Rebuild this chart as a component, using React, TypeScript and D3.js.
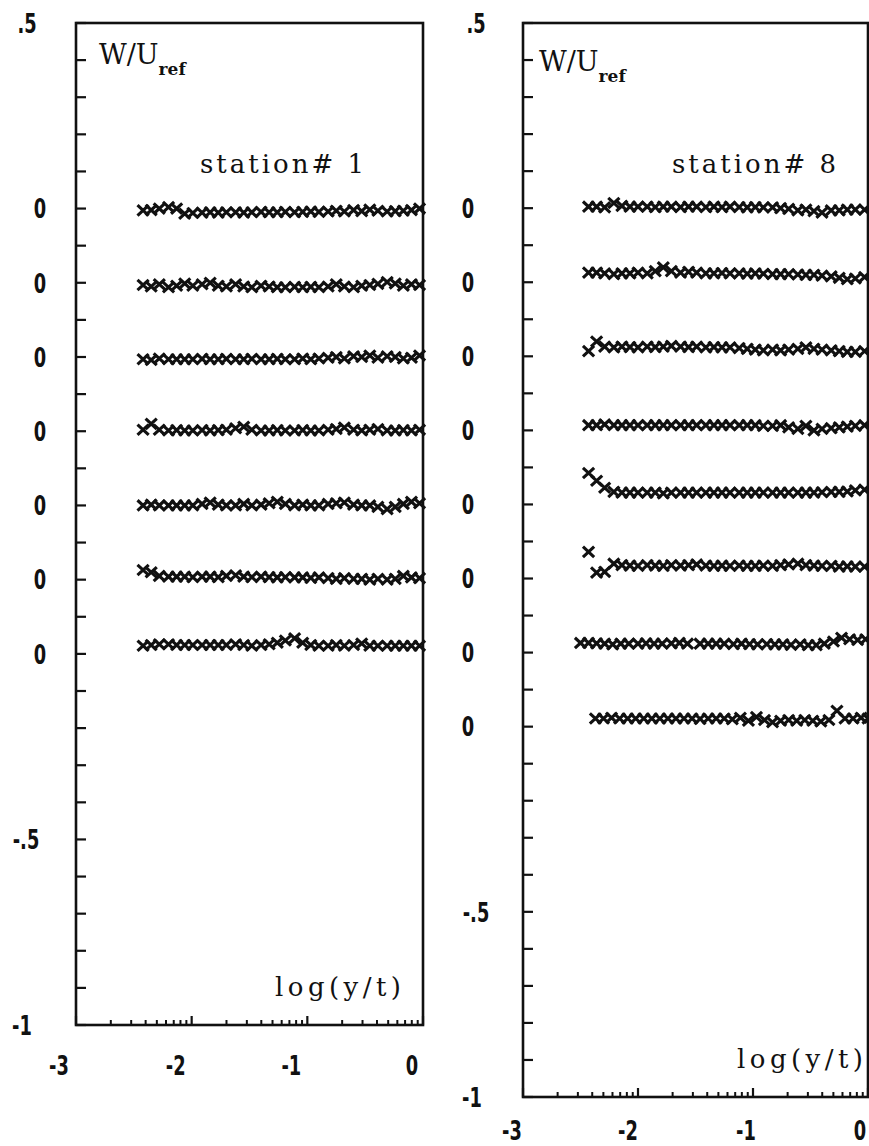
import React from "react";
import * as d3 from "d3";

// ---------- data ----------
// log(y/t) positions of the measurement points
const LEFT_X = [-2.42, -2.35, -2.28, -2.20, -2.13, -2.06, -1.99, -1.91, -1.84, -1.77, -1.70, -1.62, -1.55, -1.48, -1.40, -1.33, -1.26, -1.19, -1.11, -1.04, -0.97, -0.90, -0.82, -0.75, -0.68, -0.60, -0.53, -0.46, -0.39, -0.31, -0.24, -0.17, -0.10, -0.03];
const RIGHT_X = [-2.43, -2.36, -2.29, -2.21, -2.14, -2.07, -2.00, -1.92, -1.85, -1.78, -1.71, -1.63, -1.56, -1.49, -1.41, -1.34, -1.27, -1.20, -1.12, -1.05, -0.98, -0.91, -0.83, -0.76, -0.69, -0.61, -0.54, -0.47, -0.40, -0.32, -0.25, -0.18, -0.11, -0.03];
const RIGHT_X7 = [-2.50, -2.43, -2.36, -2.29, -2.22, -2.15, -2.08, -2.00, -1.93, -1.86, -1.79, -1.71, -1.64, -1.57, -1.46, -1.39, -1.32, -1.25, -1.17, -1.10, -1.03, -0.96, -0.88, -0.81, -0.74, -0.67, -0.59, -0.52, -0.45, -0.38, -0.30, -0.23, -0.16, -0.09, -0.02];
const RIGHT_X8 = [-2.37, -2.30, -2.23, -2.16, -2.09, -2.02, -1.95, -1.88, -1.81, -1.74, -1.67, -1.60, -1.53, -1.46, -1.39, -1.32, -1.25, -1.18, -1.11, -1.04, -0.97, -0.90, -0.83, -0.76, -0.69, -0.62, -0.55, -0.48, -0.41, -0.34, -0.27, -0.20, -0.13, -0.06, 0.0];

// W/U_ref values, station 1 (each profile is drawn about its own zero)
const S1_P1 = [-0.005, -0.004, 0.000, 0.004, 0.000, -0.014, -0.012, -0.011, -0.010, -0.011, -0.010, -0.010, -0.011, -0.010, -0.009, -0.010, -0.010, -0.009, -0.010, -0.009, -0.008, -0.009, -0.008, -0.006, -0.008, -0.004, -0.007, -0.003, -0.006, -0.008, -0.007, -0.006, -0.004, 0.000];
const S1_P2 = [-0.006, -0.010, -0.004, -0.012, -0.008, -0.002, -0.008, -0.004, 0.000, -0.008, -0.010, -0.004, -0.010, -0.012, -0.008, -0.010, -0.012, -0.012, -0.011, -0.012, -0.011, -0.012, -0.010, -0.004, -0.010, -0.012, -0.008, -0.006, -0.003, 0.002, -0.002, -0.008, -0.004, -0.006];
const S1_P3 = [-0.006, -0.008, -0.004, -0.006, -0.006, -0.006, -0.006, -0.005, -0.006, -0.006, -0.005, -0.006, -0.006, -0.005, -0.006, -0.006, -0.005, -0.006, -0.006, -0.004, -0.006, -0.004, -0.002, 0.000, -0.004, 0.002, 0.000, 0.004, -0.002, 0.002, 0.000, -0.004, -0.002, 0.004];
const S1_P4 = [0.004, 0.020, 0.004, 0.002, 0.003, 0.002, 0.002, 0.003, 0.002, 0.003, 0.004, 0.008, 0.012, 0.004, 0.002, 0.002, 0.003, 0.002, 0.002, 0.003, 0.002, 0.002, 0.004, 0.006, 0.010, 0.004, 0.002, 0.004, 0.006, 0.002, 0.002, 0.003, 0.002, 0.004];
const S1_P5 = [0.000, 0.002, 0.000, 0.000, 0.000, 0.000, 0.000, 0.004, 0.008, 0.002, 0.000, 0.000, 0.004, 0.000, 0.002, 0.006, 0.010, 0.004, 0.000, 0.002, 0.000, 0.000, 0.004, 0.006, 0.008, 0.002, 0.000, 0.000, -0.004, -0.010, -0.004, 0.004, 0.010, 0.006];
const S1_P6 = [0.026, 0.020, 0.010, 0.008, 0.008, 0.008, 0.007, 0.008, 0.008, 0.007, 0.010, 0.012, 0.008, 0.007, 0.008, 0.007, 0.006, 0.007, 0.006, 0.006, 0.005, 0.006, 0.004, 0.002, 0.004, 0.002, 0.002, 0.000, 0.002, 0.000, 0.002, 0.010, 0.006, 0.004];
const S1_P7 = [0.022, 0.024, 0.026, 0.026, 0.024, 0.024, 0.024, 0.024, 0.024, 0.024, 0.024, 0.026, 0.024, 0.022, 0.024, 0.026, 0.030, 0.036, 0.042, 0.030, 0.024, 0.022, 0.022, 0.024, 0.022, 0.024, 0.028, 0.022, 0.022, 0.022, 0.022, 0.022, 0.022, 0.022];

// station 8
const S8_P1 = [0.004, 0.004, 0.002, 0.014, 0.006, 0.004, 0.004, 0.004, 0.003, 0.004, 0.004, 0.003, 0.004, 0.004, 0.003, 0.004, 0.003, 0.004, 0.003, 0.002, 0.003, 0.002, 0.002, 0.000, -0.002, -0.006, -0.004, -0.008, -0.012, -0.006, -0.006, -0.004, -0.004, -0.004];
const S8_P2 = [0.026, 0.026, 0.024, 0.022, 0.024, 0.024, 0.026, 0.024, 0.030, 0.040, 0.030, 0.026, 0.028, 0.026, 0.024, 0.024, 0.025, 0.024, 0.024, 0.023, 0.024, 0.023, 0.022, 0.022, 0.022, 0.021, 0.020, 0.020, 0.018, 0.016, 0.012, 0.008, 0.010, 0.014];
const S8_P3 = [0.014, 0.040, 0.026, 0.024, 0.026, 0.025, 0.024, 0.026, 0.025, 0.026, 0.028, 0.026, 0.025, 0.026, 0.024, 0.025, 0.024, 0.024, 0.022, 0.020, 0.018, 0.016, 0.018, 0.016, 0.018, 0.020, 0.024, 0.020, 0.018, 0.016, 0.014, 0.012, 0.012, 0.014];
const S8_P4 = [0.014, 0.014, 0.016, 0.014, 0.014, 0.014, 0.014, 0.014, 0.014, 0.014, 0.014, 0.014, 0.014, 0.014, 0.014, 0.014, 0.014, 0.014, 0.014, 0.014, 0.014, 0.012, 0.012, 0.014, 0.008, 0.004, 0.012, 0.000, 0.004, 0.006, 0.008, 0.010, 0.012, 0.014];
const S8_P5 = [0.085, 0.064, 0.045, 0.034, 0.032, 0.032, 0.032, 0.032, 0.032, 0.030, 0.032, 0.032, 0.032, 0.032, 0.032, 0.032, 0.032, 0.032, 0.032, 0.032, 0.032, 0.032, 0.032, 0.032, 0.032, 0.032, 0.032, 0.032, 0.033, 0.034, 0.034, 0.035, 0.038, 0.040];
const S8_P6 = [0.072, 0.016, 0.018, 0.040, 0.036, 0.035, 0.034, 0.036, 0.035, 0.034, 0.036, 0.035, 0.036, 0.038, 0.035, 0.034, 0.035, 0.034, 0.035, 0.034, 0.034, 0.035, 0.034, 0.036, 0.038, 0.040, 0.036, 0.035, 0.034, 0.034, 0.032, 0.033, 0.032, 0.032];
const S8_P7 = [0.026, 0.026, 0.025, 0.024, 0.022, 0.024, 0.024, 0.024, 0.025, 0.024, 0.024, 0.025, 0.026, 0.024, 0.024, 0.024, 0.024, 0.024, 0.023, 0.024, 0.023, 0.022, 0.023, 0.022, 0.022, 0.021, 0.022, 0.020, 0.020, 0.024, 0.030, 0.040, 0.036, 0.034, 0.036];
const S8_P8 = [0.022, 0.022, 0.024, 0.022, 0.022, 0.022, 0.022, 0.022, 0.022, 0.022, 0.022, 0.022, 0.022, 0.021, 0.022, 0.022, 0.022, 0.020, 0.024, 0.016, 0.026, 0.018, 0.012, 0.016, 0.018, 0.016, 0.018, 0.016, 0.014, 0.018, 0.043, 0.022, 0.022, 0.024, 0.022];

// offsets of the stacked profiles
const S1_OFFSETS = [0, -0.2, -0.4, -0.6, -0.8, -1.0, -1.2];
const S8_OFFSETS = [0, -0.2, -0.4, -0.6, -0.8, -1.0, -1.2, -1.4];

// y tick labels (position on the stacked axis, text)
const S1_YLABEL_POS = [0.5, 0, -0.2, -0.4, -0.6, -0.8, -1.0, -1.2, -1.7, -2.2];
const S1_YLABEL_TXT = [".5", "0", "0", "0", "0", "0", "0", "0", "-.5", "-1"];
const S8_YLABEL_POS = [0.5, 0, -0.2, -0.4, -0.6, -0.8, -1.0, -1.2, -1.4, -1.9, -2.4];
const S8_YLABEL_TXT = [".5", "0", "0", "0", "0", "0", "0", "0", "0", "-.5", "-1"];

const X_TICKS = [-3, -2, -1, 0];
const X_TICK_TXT = ["-3", "-2", "-1", "0"];

const S1_SERIES = [S1_P1, S1_P2, S1_P3, S1_P4, S1_P5, S1_P6, S1_P7];
const S1_XS = [LEFT_X, LEFT_X, LEFT_X, LEFT_X, LEFT_X, LEFT_X, LEFT_X];
const S8_SERIES = [S8_P1, S8_P2, S8_P3, S8_P4, S8_P5, S8_P6, S8_P7, S8_P8];
const S8_XS = [RIGHT_X, RIGHT_X, RIGHT_X, RIGHT_X, RIGHT_X, RIGHT_X, RIGHT_X7, RIGHT_X8];

// ---------- drawing ----------
const NUM_FONT = "'DejaVu Sans', 'Liberation Sans', sans-serif";
const SERIF = "'DejaVu Serif', 'Liberation Serif', serif";

type PanelProps = {
  x0: number; x1: number; yTop: number; yBot: number; yMin: number;
  xs: number[][]; series: number[][]; offsets: number[];
  labelPos: number[]; labelTxt: string[];
  labelCx: Record<string, number>;
  xLabelDx: number[]; xLabelDy: number;
  title: string; titleX: number;
  wuX: number; wuY: number;
  logX: number; logY: number;
};

function Cross({ cx, cy }: { cx: number; cy: number }) {
  const w = 5.6, h = 5.2;
  return (
    <path
      d={`M${cx - w},${cy - h}L${cx + w},${cy + h}M${cx - w},${cy + h}L${cx + w},${cy - h}`}
      stroke="#111" strokeWidth={3.1} fill="none" strokeLinecap="butt"
    />
  );
}

function Num({ x, y, txt }: { x: number; y: number; txt: string }) {
  return (
    <text transform={`translate(${x},${y}) scale(0.66,1)`} dy="0.36em" textAnchor="middle"
      fontFamily={NUM_FONT} fontWeight="bold" fontSize={27} fill="#111">{txt}</text>
  );
}

function Panel(p: PanelProps) {
  const x = d3.scaleLinear().domain([-3, 0]).range([p.x0, p.x1]);
  const y = d3.scaleLinear().domain([0.5, p.yMin]).range([p.yTop, p.yBot]);
  const nMinor = Math.round((0.5 - p.yMin) / 0.1);
  const yTicks = d3.range(0, nMinor + 1).map((i) => 0.5 - i * 0.1);
  const xMinor: number[] = [];
  for (let dec = -3; dec < 0; dec++) {
    for (let k = 2; k <= 9; k++) xMinor.push(dec + Math.log10(k));
  }
  return (
    <g>
      {/* frame */}
      <rect x={p.x0} y={p.yTop} width={p.x1 - p.x0} height={p.yBot - p.yTop}
        fill="none" stroke="#111" strokeWidth={2.6} />
      {/* y ticks */}
      {yTicks.map((t, i) => (
        <line key={"yt" + i} x1={p.x0} x2={p.x0 + 10} y1={y(t)} y2={y(t)} stroke="#111" strokeWidth={2.2} />
      ))}
      {/* x ticks: decades + log minor */}
      {X_TICKS.map((t, i) => (
        <line key={"xd" + i} x1={x(t)} x2={x(t)} y1={p.yBot} y2={p.yBot - 9} stroke="#111" strokeWidth={2.2} />
      ))}
      {xMinor.map((t, i) => (
        <line key={"xm" + i} x1={x(t)} x2={x(t)} y1={p.yBot} y2={p.yBot - 5} stroke="#111" strokeWidth={2} />
      ))}
      {/* y labels */}
      {p.labelPos.map((v, i) => (
        <Num key={"yl" + i} x={p.labelCx[p.labelTxt[i]]} y={y(v)} txt={p.labelTxt[i]} />
      ))}
      {/* x labels */}
      {X_TICKS.map((t, i) => (
        <Num key={"xl" + i} x={x(t) + p.xLabelDx[i]} y={p.yBot + p.xLabelDy} txt={X_TICK_TXT[i]} />
      ))}
      {/* data */}
      {p.series.map((vals, si) => (
        <g key={"s" + si}>
          {vals.map((v, j) => (
            <Cross key={j} cx={x(p.xs[si][j])} cy={y(p.offsets[si] + v)} />
          ))}
        </g>
      ))}
      {/* texts */}
      <text x={p.wuX} y={p.wuY} fontFamily={SERIF} fontSize={27} fill="#111">
        W/U<tspan fontSize={17} fontWeight="bold" dy={11}>ref</tspan>
      </text>
      <text x={p.titleX} y={173} fontFamily={SERIF} fontSize={26} fill="#111"
        textLength={p.title.length * 16.4} lengthAdjust="spacing">{p.title}</text>
      <text x={p.logX} y={p.logY} fontFamily={SERIF} fontSize={26} fill="#111"
        textLength={126} lengthAdjust="spacing">log(y/t)</text>
    </g>
  );
}

export default function App() {
  return (
    <svg width={869} height={1146} style={{ position: "absolute", left: 0, top: 0, background: "#fff" }}>
      <rect x={0} y={0} width={869} height={1146} fill="#fff" />
      <Panel
        x0={76} x1={423} yTop={23} yBot={1025} yMin={-2.2}
        xs={S1_XS} series={S1_SERIES} offsets={S1_OFFSETS}
        labelPos={S1_YLABEL_POS} labelTxt={S1_YLABEL_TXT}
        labelCx={{ ".5": 27, "0": 40, "-.5": 26, "-1": 22 }}
        xLabelDx={[-17, -16, -16, -11]} xLabelDy={40}
        title="station# 1" titleX={200}
        wuX={99} wuY={64}
        logX={275} logY={996}
      />
      <Panel
        x0={523} x1={868} yTop={23} yBot={1097} yMin={-2.4}
        xs={S8_XS} series={S8_SERIES} offsets={S8_OFFSETS}
        labelPos={S8_YLABEL_POS} labelTxt={S8_YLABEL_TXT}
        labelCx={{ ".5": 476, "0": 468, "-.5": 476, "-1": 472 }}
        xLabelDx={[-11, -10, -7, -8]} xLabelDy={33}
        title="station# 8" titleX={672}
        wuX={539} wuY={71}
        logX={737} logY={1068}
      />
    </svg>
  );
}
